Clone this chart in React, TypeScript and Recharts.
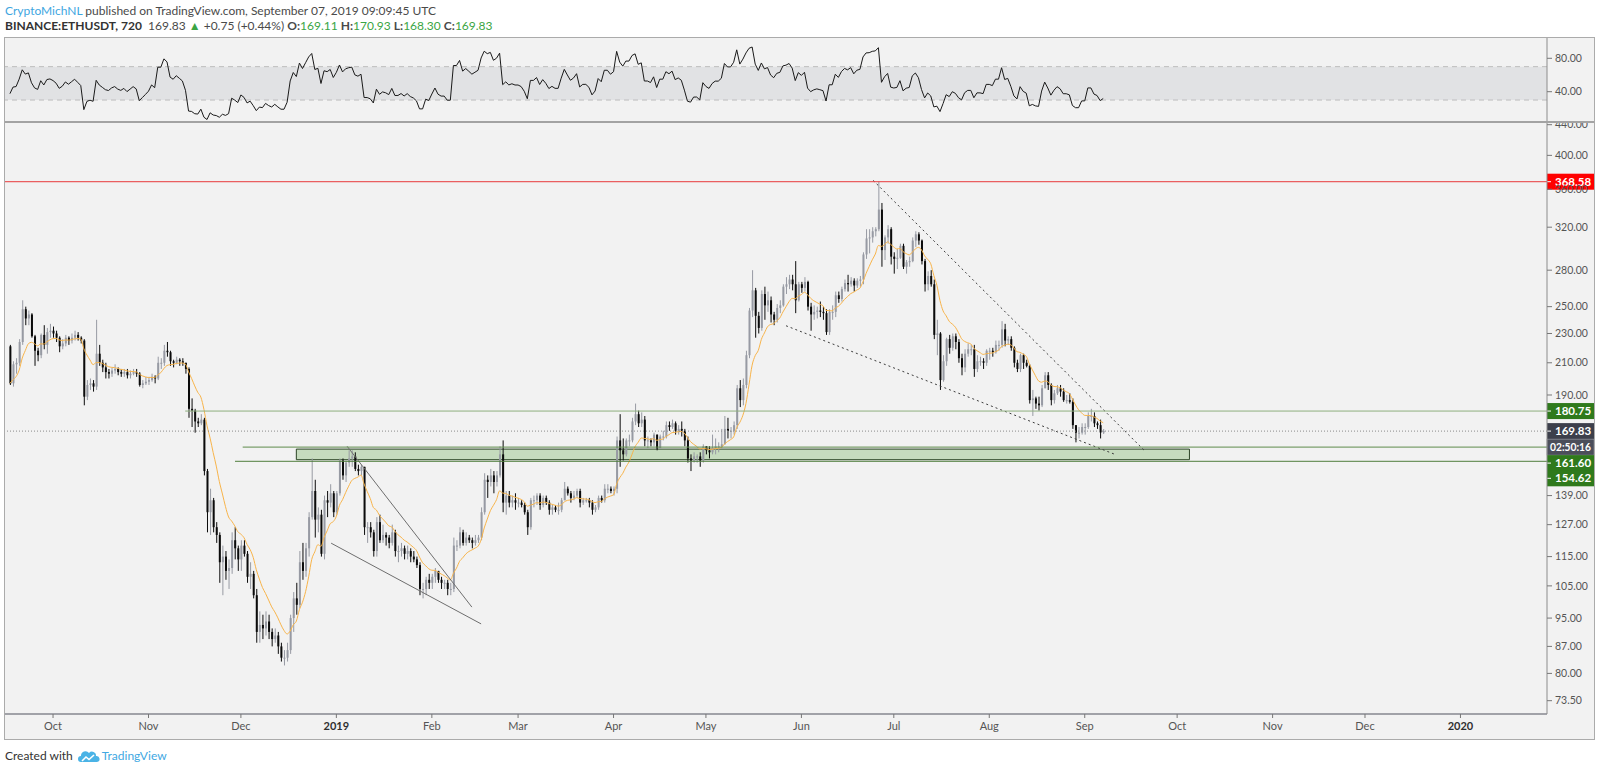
import React from 'react'
import {
  ComposedChart, LineChart, Line, Bar, XAxis, YAxis,
  ReferenceLine, ReferenceArea,
} from 'recharts'

// BINANCE:ETHUSDT daily bars: [high, low, close]; open = previous close
type HLC = [number, number, number]

const firstOpen = 221
const sep18: HLC[] = [
  [222,196,197],[211,195,209],[213,203,210],[226,208,224],[255,222,248],[250,236,241],[247,236,244],[245,227,228],[229,208,218],[220,211,215],
  [230,213,229],[236,219,222],[234,216,231],[237,227,232],
]
const oct18: HLC[] = [
  [235,227,230],[232,224,227],[228,217,221],[226,219,223],[229,221,227],[228,222,225],[230,223,227],[232,225,229],[231,225,227],[228,223,225],
  [226,184,189],[199,187,196],[200,193,197],[199,192,195],[240,193,216],[222,208,210],[212,204,207],[210,200,204],[206,200,203],[207,201,205],
  [209,203,206],[207,202,204],[206,201,203],[206,201,204],[206,200,202],[205,200,203],[206,202,204],[206,201,203],[204,195,196],[199,194,197],
  [201,196,198],
]
const nov18: HLC[] = [
  [201,196,199],[203,198,201],[202,197,200],[214,199,210],[213,206,210],[222,208,218],[224,214,217],[218,208,211],[212,207,210],[214,209,212],
  [213,208,211],[213,208,210],[210,203,206],[207,177,182],[188,172,181],[182,169,175],[177,172,174],[179,173,176],[177,148,150],[151,124,132],
  [142,123,137],[138,124,126],[128,120,123],[124,106,113],[119,102,115],[117,107,110],[114,104,111],[124,109,121],[126,114,118],[119,110,114],
]
const dec18: HLC[] = [
  [121,110,119],[121,115,116],[117,106,108],[113,104,109],[110,101,102],[104,88,91],[97,88,93],[96,89,92],[97,90,94],[96,89,91],
  [92,87,89],[92,88,90],[91,85,87],[88,83,84],[86,82,84],[88,83,86],[96,85,95],[103,91,101],[106,96,99],[117,98,113],
  [120,107,110],[120,108,118],[132,115,130],[156,129,141],[146,122,129],[134,124,131],[133,115,116],[139,114,137],[141,130,136],[144,134,140],
  [141,130,132],
]
const jan19: HLC[] = [
  [141,131,140],[156,139,155],[156,146,148],[155,145,154],[160,152,156],[160,152,157],[159,150,151],[153,148,150],[153,148,152],[152,123,126],
  [128,120,126],[128,122,124],[125,115,117],[130,115,128],[131,120,121],[127,120,123],[124,119,122],[123,118,120],[127,119,124],[125,115,117],
  [119,113,117],[120,115,118],[119,114,116],[119,114,117],[118,113,115],[117,113,114],[115,111,112],[113,102,104],[106,101,104],[108,102,107],
  [109,104,106],
]
const feb19: HLC[] = [
  [109,104,108],[111,106,110],[110,106,107],[108,104,106],[107,104,106],[107,102,104],[106,102,104],[122,103,119],[121,117,119],[126,118,124],
  [125,119,120],[124,119,122],[123,120,121],[122,118,120],[123,119,121],[123,120,122],[134,121,132],[149,131,146],[148,138,145],[151,143,148],
  [150,140,145],[150,143,148],[162,147,158],[165,132,136],[141,131,139],[141,134,136],[139,134,137],[140,133,136],
]
const mar19: HLC[] = [
  [138,134,136],[137,134,135],[136,131,132],[133,123,126],[138,125,137],[139,134,137],[140,135,139],[140,133,135],[139,134,138],[139,135,136],
  [137,131,133],[135,131,134],[135,132,133],[136,131,133],[138,132,137],[145,137,142],[143,139,140],[141,136,138],[141,137,139],[142,138,141],
  [142,134,136],[138,135,137],[138,136,137],[138,134,136],[137,131,133],[135,132,134],[139,133,138],[139,136,137],[144,136,142],[144,140,142],
  [143,140,141],
]
const apr19: HLC[] = [
  [143,139,142],[167,140,165],[179,152,160],[166,155,158],[166,157,165],[168,162,165],[177,164,175],[185,173,179],[181,172,174],[180,172,176],
  [178,162,165],[167,161,165],[166,162,164],[169,162,168],[168,160,161],[168,161,167],[170,165,167],[175,166,173],[175,170,172],[176,171,174],
  [175,168,170],[173,168,171],[175,167,170],[171,162,165],[167,154,156],[158,150,155],[159,154,157],[158,154,157],[159,152,155],[163,154,162],
]
const may19: HLC[] = [
  [162,158,160],[162,156,159],[168,158,161],[166,158,162],[164,159,162],[171,161,163],[178,163,171],[177,166,170],[172,166,170],[175,168,173],
  [196,171,194],[199,183,187],[200,184,196],[218,194,215],[249,213,247],[280,242,263],[265,227,243],[246,230,234],[263,232,260],[266,240,251],
  [262,246,255],[258,238,244],[246,236,240],[252,238,249],[255,245,251],[268,250,266],[274,260,268],[276,264,272],[276,263,268],[288,245,255],
  [270,254,268],
]
const jun19: HLC[] = [
  [270,261,265],[274,262,270],[271,247,250],[253,232,244],[251,240,246],[250,241,247],[254,242,246],[250,240,245],[248,229,231],[248,229,246],
  [251,240,246],[262,242,259],[262,253,256],[266,254,264],[272,262,269],[276,262,268],[274,266,271],[273,262,267],[273,265,271],[275,266,272],
  [296,268,294],[318,290,309],[318,295,310],[320,305,316],[320,311,318],[368.58,316,338],[345,283,298],[312,289,310],[322,304,318],[320,285,292],
]
const jul19: HLC[] = [
  [296,277,290],[299,281,291],[304,290,302],[304,281,283],[289,277,287],[292,283,288],[310,287,307],[316,301,313],[315,303,307],[308,285,288],
  [290,262,268],[279,263,275],[280,266,268],[272,226,229],[240,215,230],[231,193,199],[215,198,211],[227,208,226],[229,216,220],[230,218,228],
  [230,219,224],[226,210,213],[216,202,207],[219,204,216],[223,214,219],[222,215,219],[222,201,206],[215,204,211],[214,208,211],[213,206,210],
  [219,208,218],
]
const aug19: HLC[] = [
  [220,212,218],[220,214,217],[225,216,222],[225,218,222],[239,220,233],[237,221,225],[228,222,226],[228,218,220],[221,207,210],[212,204,206],
  [216,204,215],[216,206,210],[212,207,208],[209,185,187],[193,178,188],[189,182,185],[189,181,184],[196,183,194],[204,194,202],[204,193,196],
  [197,184,187],[193,185,191],[196,190,194],[196,189,192],[194,186,187],[190,185,187],[191,185,186],[188,171,173],[173,164,169],[172,166,169],
  [174,168,172],
]
const sep19: HLC[] = [
  [174,168,172],[180,171,178],[182,175,178],[180,172,174],[175,171,173],[176,166,169.11],[170.93,168.3,169.83],
]
const months = [sep18, oct18, nov18, dec18, jan19, feb19, mar19, apr19, may19, jun19, jul19, aug19, sep19]

// x axis: days since 1 Oct 2018
const ORIGIN = Date.UTC(2018, 9, 1)
const dayOf = (y: number, m: number, d: number, h = 0) => (Date.UTC(y, m - 1, d, h) - ORIGIN) / 86400000
const firstDay = dayOf(2018, 9, 17)
const xDomain: [number, number] = [-15.6, 485.1]

const tickMonths: [number, number][] = [
  [2018, 10], [2018, 11], [2018, 12], [2019, 1], [2019, 2], [2019, 3], [2019, 4], [2019, 5],
  [2019, 6], [2019, 7], [2019, 8], [2019, 9], [2019, 10], [2019, 11], [2019, 12], [2020, 1],
]
const tickNames = ['Oct', 'Nov', 'Dec', '2019', 'Feb', 'Mar', 'Apr', 'May', 'Jun', 'Jul', 'Aug', 'Sep', 'Oct', 'Nov', 'Dec', '2020']
const monthTicks = tickMonths.map(([y, m]) => dayOf(y, m, 1))

const priceDomain: [number, number] = [70.52, 443.7]
const priceTicks = [73.5, 80, 87, 95, 105, 115, 127, 139, 190, 210, 230, 250, 280, 320, 360, 400, 440]
const rsiDomain: [number, number] = [4.9, 104.3]
const rsiTicks = [40, 80]

// drawings
const athLevel = 368.58
const lastPrice = 169.83
const countdown = '02:50:16'
const zone = { from: dayOf(2018, 12, 19), to: dayOf(2019, 10, 5), low: 155.4, high: 160.6 }
const greenLevels = [
  { price: 180.75, from: dayOf(2018, 11, 12, 22) },
  { price: 161.6, from: dayOf(2018, 12, 1, 14) },
  { price: 154.62, from: dayOf(2018, 11, 29, 2) },
]
const solidLines = [
  [[dayOf(2019, 1, 4, 12), 162.0], [dayOf(2019, 2, 14), 98.3]],
  [[dayOf(2018, 12, 30, 7), 119.9], [dayOf(2019, 2, 17), 93.3]],
]
const dottedLines = [
  [[dayOf(2019, 6, 24, 7), 370.1], [dayOf(2019, 9, 20, 12), 159.7]],
  [[dayOf(2019, 5, 27), 235.6], [dayOf(2019, 9, 10, 19), 158.0]],
]

const bars = months.flat()
const closes = bars.map((b) => b[2])

const emaLen = 10
const ema: number[] = []
closes.forEach((c, i) => {
  const k = 2 / (emaLen + 1)
  ema.push(i === 0 ? c : ema[i - 1] + k * (c - ema[i - 1]))
})

const rsiLen = 7
const rsi: number[] = []
{
  const ch = closes.map((c, i) => c - (i ? closes[i - 1] : firstOpen))
  const seed = ch.slice(0, rsiLen).reduce((s, v) => s + Math.abs(v), 0) / rsiLen / 2
  let ag = seed, al = seed
  ch.forEach((v) => {
    ag = (ag * (rsiLen - 1) + Math.max(v, 0)) / rsiLen
    al = (al * (rsiLen - 1) + Math.max(-v, 0)) / rsiLen
    rsi.push(al === 0 ? 100 : 100 - 100 / (1 + ag / al))
  })
}

const rows = bars.map(([h, l, c], i) => {
  const o = i ? bars[i - 1][2] : firstOpen
  const high = Math.max(h, o, c)
  const low = Math.min(l, o, c)
  return { t: firstDay + i, open: o, high, low, close: c, range: [low, high], ema: ema[i], rsi: rsi[i] }
})

const FONT = 'Lato, "Liberation Sans", sans-serif'
const UP = '#979aa3'
const DOWN = '#0b0b0b'

const Candle = (props: any) => {
  const { x, y, width, height, payload } = props
  if (!payload || !isFinite(y)) return null
  const top = Math.min(y, y + height)
  const h = Math.abs(height)
  const { open, close, high, low } = payload
  const color = close >= open ? UP : DOWN
  const span = Math.log(high) - Math.log(low) || 1
  const py = (v: number) => top + (h * (Math.log(high) - Math.log(v))) / span
  const b0 = py(Math.max(open, close))
  const b1 = py(Math.min(open, close))
  const cx = x + width / 2
  return (
    <g>
      <line x1={cx} x2={cx} y1={top} y2={top + h} stroke={color} strokeWidth={1} />
      <rect x={x} y={b0} width={width} height={Math.max(b1 - b0, 1)} fill={color} />
    </g>
  )
}

const MonthTick = (props: any) => {
  const { x, y, payload } = props
  const label = tickNames[monthTicks.indexOf(payload.value)] ?? ''
  const year = /^\d{4}$/.test(label)
  return (
    <text x={x} y={y} dy="0.71em" textAnchor="middle" fontSize={11} fontFamily={FONT}
      fill={year ? '#2f2f2f' : '#555'} fontWeight={year ? 700 : 400}>
      {label}
    </text>
  )
}

const axisTick = { fontSize: 10.5, fill: '#555', fontFamily: FONT }

const tag = (text: string, bg: string, shift = 0, extra?: { text: string; bg: string }) => (props: any) => {
  const vb = props.viewBox
  if (!vb) return null
  const x0 = vb.x + vb.width
  const yc = vb.y + shift
  return (
    <g>
      <rect x={x0} y={yc - 8} width={47} height={16} fill={bg} />
      <line x1={x0} x2={x0 + 4} y1={yc} y2={yc} stroke="#fff" />
      <text x={x0 + 8} y={yc} dy="0.36em" fill="#fff" fontSize={11.5} fontWeight={700} fontFamily={FONT}>{text}</text>
      {extra && (
        <g>
          <rect x={x0} y={yc + 8} width={47} height={16} fill={extra.bg} stroke="#8d909a" strokeWidth={0.6} />
          <text x={x0 + 3} y={yc + 16} dy="0.36em" fill="#fff" fontSize={11} fontWeight={700} fontFamily={FONT}
            textLength={41} lengthAdjust="spacingAndGlyphs">{extra.text}</text>
        </g>
      )}
    </g>
  )
}

const fmt = (v: number) => v.toFixed(2)

function RsiPane() {
  return (
    <LineChart width={1589} height={83} data={rows} margin={{ top: 0, right: 0, bottom: 0, left: 0 }}>
      <XAxis dataKey="t" type="number" domain={xDomain} allowDataOverflow hide />
      <YAxis orientation="right" width={47} type="number" domain={rsiDomain} ticks={rsiTicks} allowDataOverflow
        tick={axisTick} tickFormatter={fmt} tickSize={5} tickMargin={3}
        tickLine={{ stroke: '#777' }} axisLine={{ stroke: '#8c8c8c' }} />
      <ReferenceArea y1={30} y2={70} fill="#e1e2e4" fillOpacity={1} stroke="none" />
      <ReferenceLine y={70} stroke="#bdbdbd" strokeDasharray="5 4" />
      <ReferenceLine y={30} stroke="#bdbdbd" strokeDasharray="5 4" />
      <Line dataKey="rsi" type="linear" stroke="#1a1a1a" strokeWidth={1} dot={false} isAnimationActive={false} />
    </LineChart>
  )
}

function PricePane() {
  return (
    <ComposedChart width={1589} height={617} data={rows} margin={{ top: 0, right: 0, bottom: 0, left: 0 }}>
      <XAxis dataKey="t" type="number" domain={xDomain} allowDataOverflow ticks={monthTicks} interval={0}
        height={25} tick={<MonthTick />} tickSize={4} tickMargin={4}
        axisLine={{ stroke: '#50535e' }} tickLine={{ stroke: '#777' }} />
      <YAxis orientation="right" width={47} type="number" scale="log" domain={priceDomain} ticks={priceTicks}
        allowDataOverflow interval={0} tick={axisTick} tickFormatter={fmt} tickSize={5} tickMargin={3}
        tickLine={{ stroke: '#777' }} axisLine={{ stroke: '#8c8c8c' }} />
      <ReferenceArea x1={zone.from} x2={zone.to} y1={zone.low} y2={zone.high}
        fill="#c6dbbe" fillOpacity={1} stroke="#2c4526" strokeWidth={1} />
      <Bar dataKey="range" shape={Candle} barSize={2} isAnimationActive={false} />
      <Line dataKey="ema" type="monotone" stroke="#f8b44a" strokeWidth={1} dot={false} isAnimationActive={false} />
      {solidLines.map(([a, b], i) => (
        <ReferenceLine key={'s' + i} segment={[{ x: a[0], y: a[1] }, { x: b[0], y: b[1] }]} stroke="#6e6e6e" strokeWidth={1} />
      ))}
      {dottedLines.map(([a, b], i) => (
        <ReferenceLine key={'d' + i} segment={[{ x: a[0], y: a[1] }, { x: b[0], y: b[1] }]} stroke="#3c3c3c" strokeWidth={1} strokeDasharray="2 3" />
      ))}
      <ReferenceLine y={lastPrice} stroke="#8a8a8a" strokeDasharray="1 2"
        label={tag(lastPrice.toFixed(2), '#3c3f4b', 0, { text: countdown, bg: '#4b4e5a' })} />
      <ReferenceLine segment={[{ x: greenLevels[0].from, y: greenLevels[0].price }, { x: xDomain[1], y: greenLevels[0].price }]}
        stroke="#8fb07f" label={tag('180.75', '#2f7a1c')} />
      <ReferenceLine segment={[{ x: greenLevels[1].from, y: greenLevels[1].price }, { x: xDomain[1], y: greenLevels[1].price }]}
        stroke="#5f8c4c" label={tag('161.60', '#2f7a1c', 16)} />
      <ReferenceLine segment={[{ x: greenLevels[2].from, y: greenLevels[2].price }, { x: xDomain[1], y: greenLevels[2].price }]}
        stroke="#4f7d3d" label={tag('154.62', '#2f7a1c', 17)} />
      <ReferenceLine y={athLevel} stroke="#e8393a" label={tag(athLevel.toFixed(2), '#ff0000')} />
    </ComposedChart>
  )
}

const green = { color: '#3aa544' }

export default function App() {
  return (
    <div style={{ position: 'absolute', left: 0, top: 0, width: 1600, height: 771, background: '#fff', overflow: 'hidden', fontFamily: FONT }}>
      <div style={{ position: 'absolute', left: 5, top: 3, fontSize: 12, lineHeight: '15px', color: '#4a4a4a', whiteSpace: 'nowrap' }}>
        <div><span style={{ color: '#3ea6df' }}>CryptoMichNL</span> published on TradingView.com, September 07, 2019 09:09:45 UTC</div>
        <div>
          <b style={{ color: '#333' }}>BINANCE:ETHUSDT, 720</b>&nbsp; 169.83 <span style={green}>▲</span> +0.75 (+0.44%){' '}
          <b>O:</b><span style={green}>169.11</span> <b>H:</b><span style={green}>170.93</span>{' '}
          <b>L:</b><span style={green}>168.30</span> <b>C:</b><span style={green}>169.83</span>
        </div>
      </div>

      <div style={{ position: 'absolute', left: 4, top: 37, width: 1591, height: 703, background: '#f2f2f2' }} />
      <div style={{ position: 'absolute', left: 5, top: 38 }}><RsiPane /></div>
      <div style={{ position: 'absolute', left: 5, top: 122 }}><PricePane /></div>
      <div style={{ position: 'absolute', left: 4, top: 121, width: 1591, height: 2, background: '#a3a3a3' }} />
      <div style={{ position: 'absolute', left: 4, top: 37, width: 1591, height: 703, boxSizing: 'border-box', border: '1px solid #ababab', pointerEvents: 'none' }} />

      <div style={{ position: 'absolute', left: 5, top: 748, fontSize: 12, lineHeight: '16px', color: '#333', display: 'flex', alignItems: 'center', whiteSpace: 'nowrap' }}>
        <span>Created with</span>
        <svg width={22} height={14} viewBox="0 0 22 14" style={{ margin: '0 2px 0 5px' }}>
          <path d="M3 13 A3 3 0 0 1 3 7 A4.5 4.5 0 0 1 11 4 A4 4 0 0 1 18 7 A3 3 0 0 1 19 13 Z" fill="#4ab3e6" />
          <path d="M4 12 L8 8 L11 10.5 L16 6" fill="none" stroke="#fff" strokeWidth={1.6} />
        </svg>
        <span style={{ color: '#41a8e2' }}>TradingView</span>
      </div>
    </div>
  )
}
